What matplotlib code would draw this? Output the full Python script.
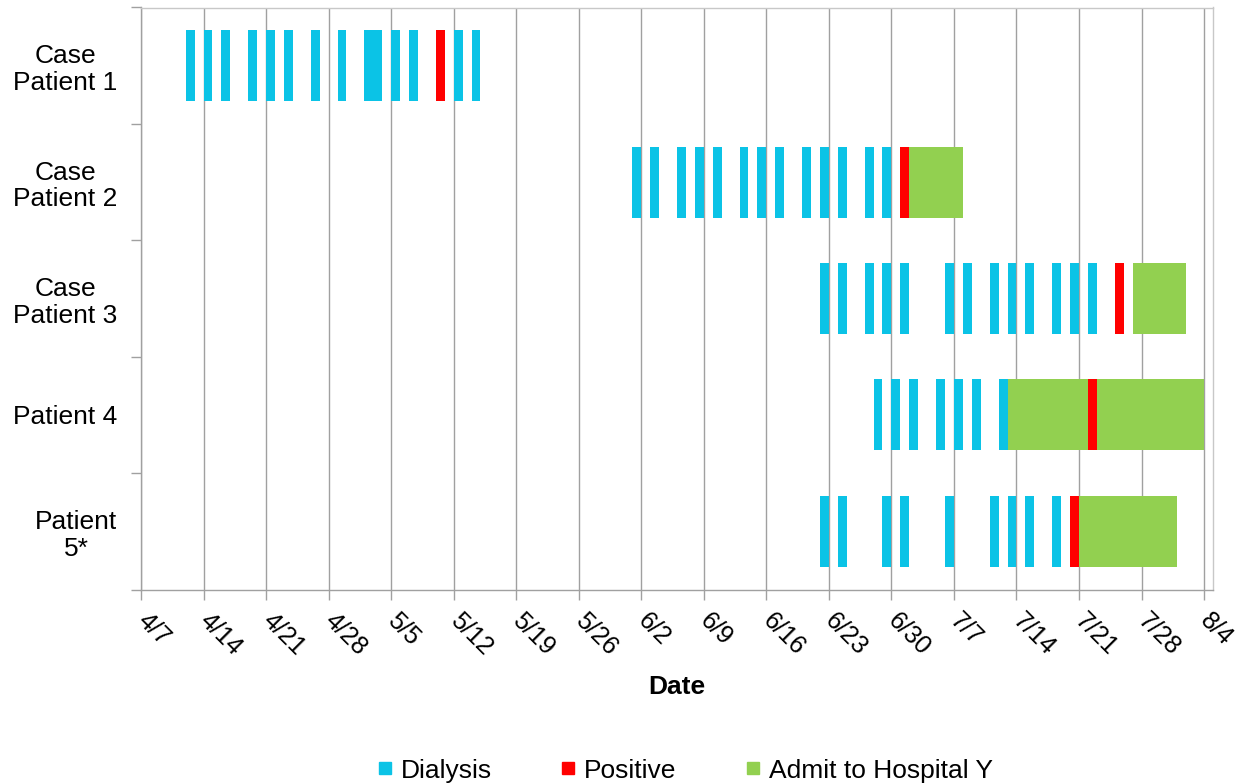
import matplotlib
matplotlib.use('Agg')
import matplotlib.pyplot as plt
from matplotlib.lines import Line2D
import pandas as pd

plt.rcParams['font.family'] = ['Liberation Sans', 'DejaVu Sans']

YEAR = 2014
start = pd.Timestamp(YEAR, 4, 7)
end = pd.Timestamp(YEAR, 8, 4)

patients = ["Case\nPatient 1", "Case\nPatient 2", "Case\nPatient 3", "Patient 4", "Patient\n5*"]

dialysis = [
    ["4/12", "4/14", "4/16", "4/19", "4/21", "4/23", "4/26", "4/29", "5/2", "5/3", "5/5", "5/7", "5/12", "5/14"],
    ["6/1", "6/3", "6/6", "6/8", "6/10", "6/13", "6/15", "6/17", "6/20", "6/22", "6/24", "6/27", "6/29"],
    ["6/22", "6/24", "6/27", "6/29", "7/1", "7/6", "7/8", "7/11", "7/13", "7/15", "7/18", "7/20", "7/22"],
    ["6/28", "6/30", "7/2", "7/5", "7/7", "7/9", "7/12"],
    ["6/22", "6/24", "6/29", "7/1", "7/6", "7/11", "7/13", "7/15", "7/18"],
]
positive = ["5/10", "7/1", "7/25", "7/22", "7/20"]
admit_start = [None, "7/2", "7/27", "7/13", "7/21"]
admit_end = [None, "7/8", "8/2", "8/4", "8/1"]

C_DIAL = "#0bc3e6"
C_POS = "#ff0000"
C_ADMIT = "#92d050"
GRID = "#a0a0a0"


def day(s):
    m, d = s.split("/")
    return (pd.Timestamp(YEAR, int(m), int(d)) - start).days


fig = plt.figure(figsize=(12.43, 7.84), dpi=100)
ax = fig.add_axes([141 / 1243, 1 - 589.5 / 784, (1213 - 141) / 1243, (589.5 - 7.5) / 784])

h = 0.61
for i in range(len(patients)):
    if admit_start[i]:
        a0 = day(admit_start[i])
        ax.barh(i, day(admit_end[i]) - a0, left=a0, height=h, color=C_ADMIT, zorder=3)
    ax.barh(i, 1, left=day(positive[i]), height=h, color=C_POS, zorder=4)
    for s in dialysis[i]:
        ax.barh(i, 1, left=day(s), height=h, color=C_DIAL, zorder=3)

n_days = (end - start).days
ax.set_xlim(0, n_days + 1)
ax.set_ylim(len(patients) - 0.5, -0.5)

weeks = pd.date_range(start, end, freq="7D")
ax.set_xticks([(w - start).days for w in weeks])
ax.set_xticklabels([f"{w.month}/{w.day}" for w in weeks], rotation=-45,
                   ha="left", va="center", rotation_mode="anchor", fontsize=18)
ax.tick_params(axis="x", length=7, width=1, color=GRID, pad=13)
ax.grid(axis="x", color=GRID, linewidth=1, zorder=0)

ax.set_yticks(range(len(patients)))
ax.set_yticklabels(patients, fontsize=19)
for lab in ax.get_yticklabels():
    lab.set_multialignment("center")
    lab.set_linespacing(1.15)
ax.tick_params(axis="y", length=0, pad=17)
ax.set_yticks([i - 0.5 for i in range(len(patients) + 1)], minor=True)
ax.tick_params(axis="y", which="minor", length=7, width=1, color=GRID)

for side in ["left", "bottom"]:
    ax.spines[side].set_color(GRID)
    ax.spines[side].set_linewidth(1)
for side in ["top", "right"]:
    ax.spines[side].set_color("#c8c8c8")
    ax.spines[side].set_linewidth(1)

ax.set_xlabel("Date", fontsize=19, fontweight="bold")
ax.xaxis.set_label_coords(0.5, -0.168)
ax.xaxis.label.set_va("center")

handles = [Line2D([], [], marker="s", linestyle="none", markersize=9, color=c)
           for c in [C_DIAL, C_POS, C_ADMIT]]
fig.legend(handles, ["Dialysis", "Positive", "Admit to Hospital Y"], loc="center",
           bbox_to_anchor=(0.551, 0.017), ncol=3, frameon=False, fontsize=19,
           handlelength=0.6, handletextpad=0.3, columnspacing=2.6)

fig.savefig("out.png", dpi=100)
plt.close(fig)
